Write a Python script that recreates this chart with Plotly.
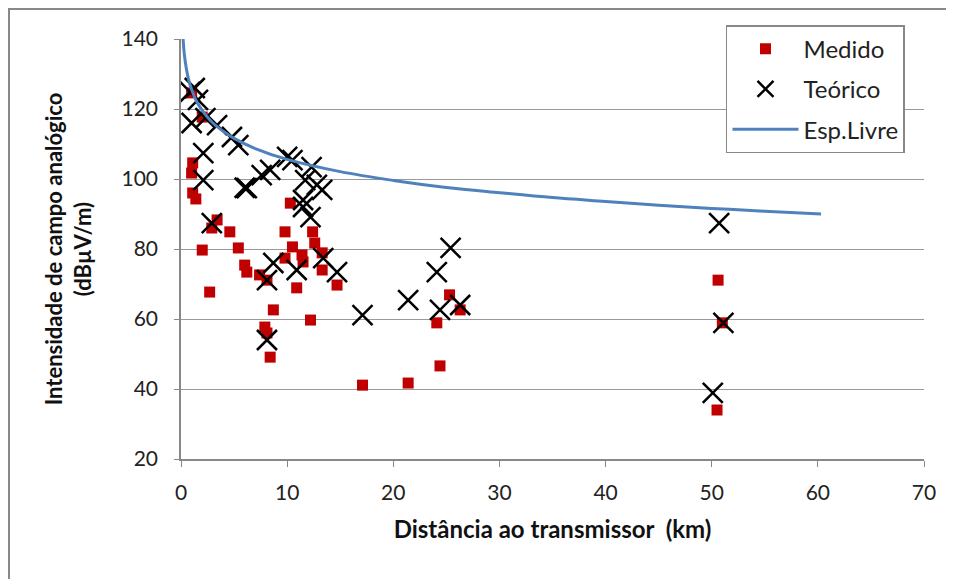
import plotly.graph_objects as go

# Medido (measured)
med_x = [1.0, 2.0, 1.1, 1.0, 1.1, 1.4, 3.4, 2.9, 4.6, 2.0, 5.4, 6.0, 6.2, 7.4, 8.1, 2.7, 8.7, 7.9, 8.1, 8.4,
         10.3, 9.8, 10.5, 9.8, 11.4, 11.5, 10.9, 12.4, 12.6, 13.3, 13.3, 14.7, 12.2, 17.1, 21.4, 24.1, 24.4,
         25.3, 26.3, 50.6, 51.0, 50.5]
med_y = [124.6, 117.7, 104.6, 101.7, 96.0, 94.3, 88.3, 86.0, 84.9, 79.7, 80.3, 75.4, 73.4, 72.6, 71.1, 67.7,
         62.6, 57.7, 56.0, 49.1, 93.1, 84.9, 80.6, 77.4, 78.3, 76.3, 68.9, 84.9, 81.7, 78.9, 74.0, 69.7, 59.7,
         41.1, 41.7, 58.9, 46.6, 66.9, 62.6, 71.1, 58.9, 34.0]

# Teórico (theoretical)
teo_x = [0.85, 1.3, 1.6, 1.0, 2.3, 3.4, 4.8, 5.4, 2.1, 2.1, 6.2, 6.0, 7.6, 8.4, 10.0, 10.5, 12.3, 11.7, 12.8,
         13.3, 11.5, 2.9, 11.5, 12.2, 13.4, 14.7, 8.7, 8.1, 10.9, 8.1, 17.1, 21.4, 24.1, 25.4, 24.4, 26.3,
         50.7, 51.1, 50.1]
teo_y = [124.9, 126.0, 122.6, 116.0, 117.4, 115.4, 112.0, 109.7, 107.4, 99.7, 97.4, 97.5, 101.1, 102.6, 106.3,
         105.4, 103.4, 99.7, 98.3, 96.9, 94.0, 87.4, 92.0, 89.1, 77.4, 73.4, 76.0, 71.1, 74.0, 54.0, 61.1,
         65.4, 73.4, 80.3, 62.6, 64.0, 87.4, 58.9, 38.9]

# Esp.Livre (free space) curve
fs_x = [0.2, 0.3, 0.5, 0.75, 1, 1.5, 2, 3, 4, 5, 7, 10, 15, 20, 25, 30, 35, 40, 45, 50, 55, 60.3]
fs_y = [140, 136, 131.6, 128, 125.6, 122, 119.6, 116, 113.6, 111.6, 108.7, 105.6, 102.1, 99.6, 97.6,
        96.1, 94.7, 93.6, 92.5, 91.6, 90.8, 90.0]

FONT = "Lato"

fig = go.Figure()
fig.add_trace(go.Scatter(x=med_x, y=med_y, mode="markers", name="Medido", legendgroup="a",
                         marker=dict(symbol="square", size=11, color="#C00000")))
fig.add_trace(go.Scatter(x=teo_x, y=teo_y, mode="markers", name="Teórico", legendgroup="b",
                         marker=dict(symbol="x-thin", size=20, color="black",
                                     line=dict(width=2.5, color="black"))))
fig.add_trace(go.Scatter(x=fs_x, y=fs_y, mode="lines", name="Esp.Livre", legendgroup="c",
                         line=dict(color="#4F81BD", width=3, shape="spline")))

fig.update_layout(
    width=946, height=571,
    margin=dict(l=173, r=30, t=31, b=120),
    paper_bgcolor="white", plot_bgcolor="white",
    font=dict(family=FONT, size=20, color="#222"),
    showlegend=True,
    legend=dict(x=0.7335, y=1.033, xanchor="left", yanchor="top",
                bordercolor="#888", borderwidth=1.5, bgcolor="white",
                traceorder="grouped", tracegroupgap=6, itemwidth=66,
                entrywidth=180, entrywidthmode="pixels",
                font=dict(size=24)),
    xaxis=dict(range=[0, 70], tickvals=[0, 10, 20, 30, 40, 50, 60, 70],
               showgrid=False, zeroline=False, showline=True, linecolor="#888", linewidth=1.5,
               ticks="outside", ticklen=6, tickcolor="#888", ticklabelstandoff=8,
               tickfont=dict(size=21),
               title=dict(text="<b>Distância ao transmissor  (km)</b>", font=dict(size=24, color="#111"),
                          standoff=18)),
    yaxis=dict(range=[20, 140], tickvals=[20, 40, 60, 80, 100, 120, 140],
               showgrid=True, gridcolor="#999", gridwidth=1.2, zeroline=False,
               showline=True, linecolor="#888", linewidth=1.5,
               ticks="outside", ticklen=5, tickcolor="#888", ticklabelstandoff=12,
               tickfont=dict(size=21),
               title=dict(text="<b>Intensidade de campo analógico<br>(dBµV/m)</b>",
                          font=dict(size=22, color="#111"), standoff=24)),
    shapes=[dict(type="rect", xref="paper", yref="paper", x0=-0.2315, x1=1.05, y0=-0.35, y1=1.0714,
                 line=dict(color="#888", width=2), layer="below")],
)

fig.write_html("out.html")
